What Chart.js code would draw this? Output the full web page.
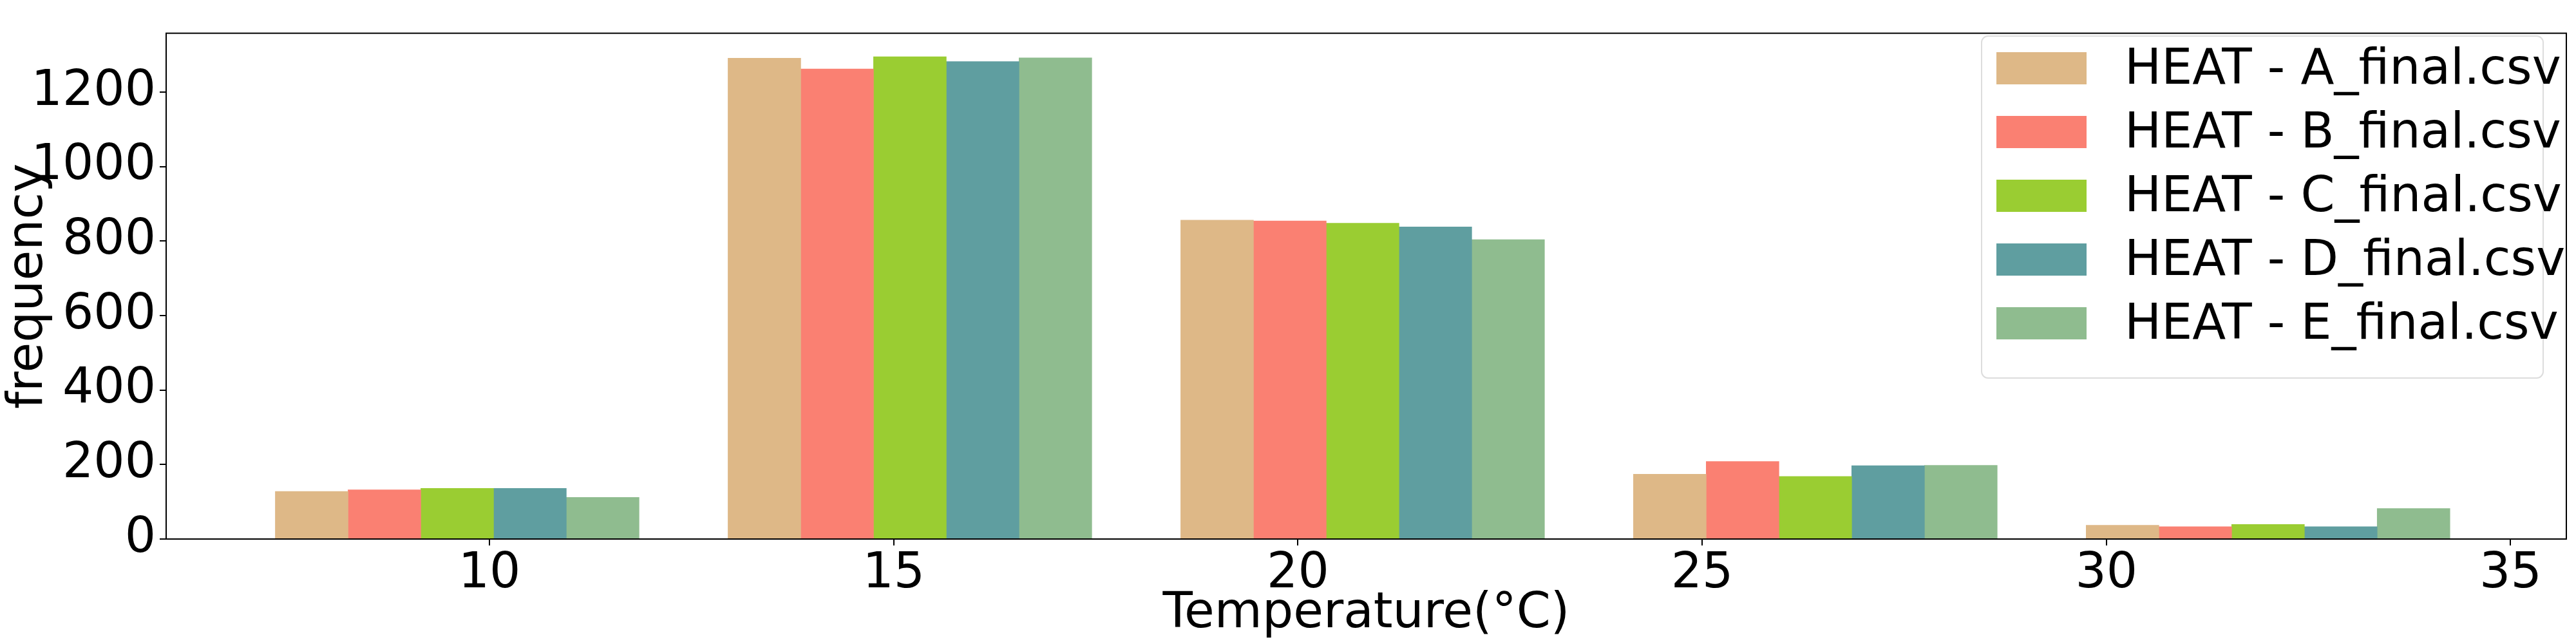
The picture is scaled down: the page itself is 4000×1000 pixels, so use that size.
<!DOCTYPE html>
<html>
<head>
<meta charset="utf-8">
<script src="https://cdn.jsdelivr.net/npm/chart.js@4"></script>
<style>
  body { margin: 0; background: #fff; }
  #wrap { width: 4000px; height: 1000px; }
</style>
</head>
<body>
<div id="wrap"><canvas id="histChart" width="4000" height="1000"></canvas></div>
<script>
// histogram bins: left edge of each group, bar width in °C
const binStarts = [7.35, 12.95, 18.55, 24.15, 29.75];
const barWidth = 0.9;
const seriesLabels = ['HEAT - A_final.csv', 'HEAT - B_final.csv', 'HEAT - C_final.csv', 'HEAT - D_final.csv', 'HEAT - E_final.csv'];
const seriesColors = ['#DEB887', '#FA8072', '#9ACD32', '#5F9EA0', '#8FBC8F'];
const heatA = [128, 1291, 856, 174, 37];
const heatB = [132, 1262, 854, 208, 33];
const heatC = [136, 1295, 848, 168, 39];
const heatD = [136, 1282, 838, 197, 33];
const heatE = [112, 1292, 804, 198, 82];
const xTicks = [10, 15, 20, 25, 30, 35];
const yTicks = [0, 200, 400, 600, 800, 1000, 1200];

const allSeries = [heatA, heatB, heatC, heatD, heatE];
const font = { family: 'DejaVu Sans', size: 76 };

const datasets = allSeries.map((vals, i) => ({
    label: seriesLabels[i],
    data: vals.map((v, k) => ({ x: binStarts[k] + barWidth * (i + 0.5), y: v })),
    backgroundColor: seriesColors[i],
    borderWidth: 0,
    grouped: false,
    barPercentage: 1.0,
    categoryPercentage: 1.0
}));

// frame around plot + legend box in the upper right
const framePlugin = {
    id: 'frame',
    afterDraw(chart) {
        const c = chart.ctx, a = chart.chartArea;
        c.save();
        c.strokeStyle = '#000';
        c.lineWidth = 2;
        c.strokeRect(a.left, a.top, a.right - a.left, a.bottom - a.top);

        const bx = 3077, by = 56, bw = 872, bh = 531;
        c.fillStyle = 'rgba(255,255,255,0.8)';
        c.strokeStyle = '#ddd';
        c.lineWidth = 2;
        c.beginPath();
        c.roundRect(bx, by, bw, bh, 10);
        c.fill();
        c.stroke();
        c.font = '76px "DejaVu Sans"';
        c.textBaseline = 'middle';
        chart.data.datasets.forEach((ds, i) => {
            const cy = by + 50 + i * 99;
            c.fillStyle = ds.backgroundColor;
            c.fillRect(bx + 23, cy - 25, 140, 50);
            c.fillStyle = '#000';
            c.fillText(ds.label, bx + 222, cy + 4);
        });
        c.restore();
    }
};

new Chart(document.getElementById('histChart').getContext('2d'), {
    type: 'bar',
    data: { datasets },
    options: {
        responsive: false,
        animation: false,
        layout: { padding: { top: 18, right: 15 } },
        plugins: { legend: { display: false }, tooltip: { enabled: false } },
        scales: {
            x: {
                type: 'linear',
                offset: false,
                min: 6,
                max: 35.69,
                afterBuildTicks: s => { s.ticks = xTicks.map(v => ({ value: v })); },
                afterFit: s => { s.height = 163; },
                grid: { drawOnChartArea: false, offset: false, tickLength: 10, color: '#000', lineWidth: 2 },
                border: { display: false },
                ticks: { font, color: '#000', maxRotation: 0, padding: 0, callback: v => String(v) },
                title: { display: true, text: 'Temperature(°C)', font, color: '#000', padding: 0 }
            },
            y: {
                min: 0,
                max: 1358,
                afterBuildTicks: s => { s.ticks = yTicks.map(v => ({ value: v })); },
                afterFit: s => { s.width = 258; },
                grid: { drawOnChartArea: false, tickLength: 10, color: '#000', lineWidth: 2 },
                border: { display: false },
                ticks: { font, color: '#000', padding: 6, callback: v => String(v) },
                title: { display: true, text: 'frequency', font, color: '#000', padding: 0 }
            }
        }
    },
    plugins: [framePlugin]
});
</script>
</body>
</html>
